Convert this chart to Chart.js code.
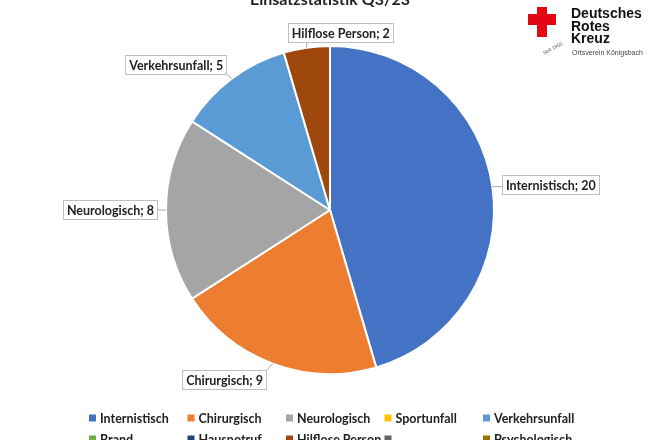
<!DOCTYPE html>
<html>
<head>
<meta charset="utf-8">
<script src="https://cdn.jsdelivr.net/npm/chart.js@4"></script>
<style>
  html, body { margin: 0; padding: 0; background: #fff; overflow: hidden; }
  #wrap { position: absolute; left: 0; top: -12px; width: 660px; height: 452px; }
  .logo { position: absolute; font-family: "Liberation Sans", Arial, sans-serif; color: #111; white-space: nowrap; }
  .cross { position: absolute; background: #e30613; }
</style>
</head>
<body>
<div id="wrap"><canvas id="chart"></canvas></div>

<!-- DRK logo, top right -->
<div class="cross" style="left:528px;top:14px;width:28px;height:11px"></div>
<div class="cross" style="left:537px;top:7px;width:10px;height:30px"></div>
<div class="logo" style="left:542px;top:45px;font-size:5px;transform:rotate(-28deg);color:#555">Seit 1950</div>
<div class="logo" style="left:571px;top:7px;font-size:14px;font-weight:bold;line-height:12.5px">Deutsches<br>Rotes<br>Kreuz</div>
<div class="logo" style="left:572px;top:49px;font-size:7px;color:#444">Ortsverein Königsbach</div>

<script>
  var categories = ['Internistisch', 'Chirurgisch', 'Neurologisch', 'Sportunfall', 'Verkehrsunfall',
                    'Brand', 'Hausnotruf', 'Hilflose Person', '', 'Psychologisch']
  var einsaetze = [20, 9, 8, 0, 5, 0, 0, 2, 0, 0]
  var colors = ['#4472C4', '#ED7D31', '#A5A5A5', '#FFC000', '#5B9BD5',
                '#70AD47', '#264478', '#9E480E', '#636363', '#997300']
  var chartTitle = 'Einsatzstatistik Q3/23'

  // small nudges so the boxes sit where Excel put them
  var labelNudge = [[0, 0], [1, -2], [0, 0], [0, 0], [6, 0], [0, 0], [0, 0], [37, 5], [0, 0], [0, 0]]

  var FONT = 'Lato, "Open Sans", sans-serif'
  var TEXT = '#222222'

  // data labels "Name; n" in white boxes with leader lines
  var labelBoxes = {
    id: 'labelBoxes',
    afterDatasetsDraw: function (chart) {
      var ctx = chart.ctx
      var meta = chart.getDatasetMeta(0)
      ctx.save()
      ctx.font = 'bold 12.5px ' + FONT
      ctx.textBaseline = 'middle'
      meta.data.forEach(function (arc, i) {
        var v = chart.data.datasets[0].data[i]
        if (!v) return
        var p = arc.getProps(['x', 'y', 'startAngle', 'endAngle', 'outerRadius'], true)
        var mid = (p.startAngle + p.endAngle) / 2
        var c = Math.cos(mid), s = Math.sin(mid)
        var off = 8 + 12 * Math.abs(s)
        var lx = p.x + c * (p.outerRadius + off)
        var ly = p.y + s * (p.outerRadius + off)
        var text = chart.data.labels[i] + '; ' + v
        var w = ctx.measureText(text).width + 8
        var h = 20
        var bx = c > 0.3 ? lx : (c < -0.3 ? lx - w : lx - w / 2)
        var by = ly - h / 2
        bx += labelNudge[i][0]
        by += labelNudge[i][1]

        // leader line
        var ax = p.x + c * p.outerRadius, ay = p.y + s * p.outerRadius
        var nx = Math.max(bx, Math.min(ax, bx + w))
        var ny = Math.max(by, Math.min(ay, by + h))
        if (Math.hypot(nx - ax, ny - ay) > 2) {
          ctx.strokeStyle = '#a6a6a6'
          ctx.lineWidth = 1
          ctx.beginPath()
          ctx.moveTo(nx, ny)
          ctx.lineTo(ax, ay)
          ctx.stroke()
        }

        ctx.fillStyle = '#ffffff'
        ctx.fillRect(bx, by, w, h)
        ctx.strokeStyle = '#bfbfbf'
        ctx.lineWidth = 1
        ctx.strokeRect(Math.round(bx) + 0.5, Math.round(by) + 0.5, Math.round(w) - 1, h - 1)
        ctx.fillStyle = TEXT
        ctx.fillText(text, bx + 4, by + h / 2 + 1)
      })
      ctx.restore()
    }
  }

  // Excel style legend: fixed grid of 5 columns (second row runs off the bottom)
  var gridLegend = {
    id: 'gridLegend',
    afterDraw: function (chart) {
      var ctx = chart.ctx
      var left = 89, colW = 98.5, rowH = 21
      var top = chart.height - 22
      ctx.save()
      ctx.font = 'bold 12.5px ' + FONT
      ctx.textBaseline = 'middle'
      categories.forEach(function (name, i) {
        var x = left + (i % 5) * colW
        var y = top + Math.floor(i / 5) * rowH
        ctx.fillStyle = colors[i]
        ctx.fillRect(x, y - 3.5, 7, 7)
        ctx.fillStyle = TEXT
        ctx.fillText(name, x + 11, y + 1)
      })
      ctx.restore()
    }
  }

  var ctx = document.getElementById('chart').getContext('2d')
  var chart = new Chart(ctx, {
    type: 'pie',
    data: {
      labels: categories,
      datasets: [{
        data: einsaetze,
        backgroundColor: colors,
        borderColor: '#ffffff',
        borderWidth: 2
      }]
    },
    options: {
      responsive: true,
      maintainAspectRatio: false,
      animation: false,
      layout: { padding: { top: 0, bottom: 65, left: 0, right: 0 } },
      plugins: {
        legend: { display: false },
        tooltip: { enabled: false },
        title: {
          display: true,
          text: chartTitle,
          color: TEXT,
          font: { family: FONT, size: 16, weight: 'bold' },
          padding: { top: 2, bottom: 35.8 }
        }
      }
    },
    plugins: [labelBoxes, gridLegend]
  })
</script>
</body>
</html>
